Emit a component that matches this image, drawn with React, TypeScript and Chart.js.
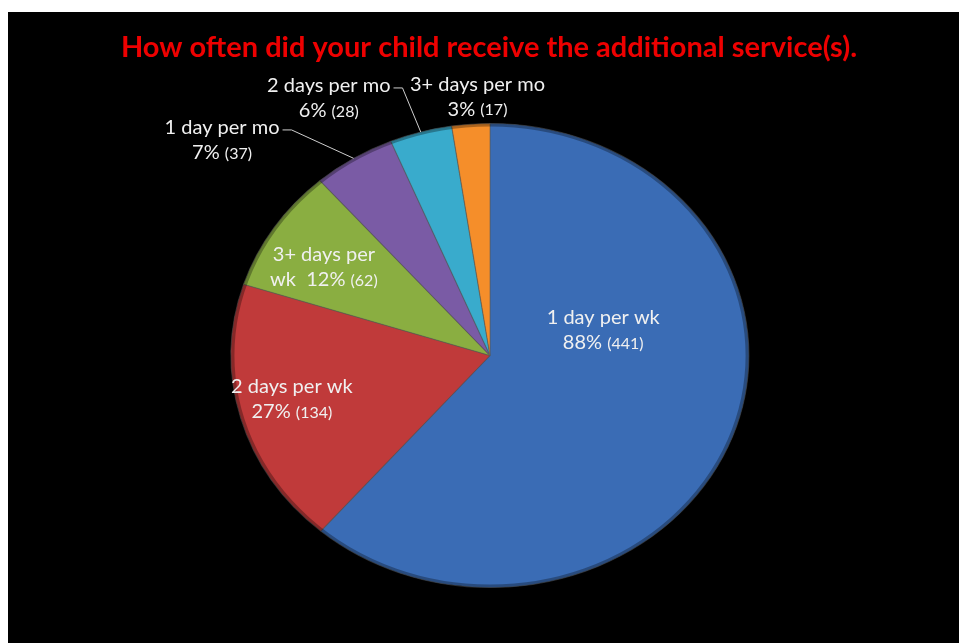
import React, { useEffect, useRef } from "react";
import { Chart, registerables } from "chart.js";

Chart.register(...registerables);

const TITLE = "How often did your child receive the additional service(s).";
const CATEGORIES = ["1 day per wk", "2 days per wk", "3+ days per wk", "1 day per mo", "2 days per mo", "3+ days per mo"];
const COUNTS = [441, 134, 62, 37, 28, 17];
const PERCENT_LABELS = ["88%", "27%", "12%", "7%", "6%", "3%"];
const COLORS = ["#3a6cb5", "#c03a3a", "#8aae41", "#7a5ba5", "#39abcc", "#f58e2a"];

// label layout (style): first-line text, wrapped prefix of the second line, offsets relative to radius, leader line
const LABEL_LAYOUT = [
  { lines: ["1 day per wk", ""], dx: 0.488, dy: -0.11, leader: false },
  { lines: ["2 days per wk", ""], dx: -0.854, dy: 0.187, leader: false },
  { lines: ["3+ days per", "wk  "], dx: -0.716, dy: -0.381, leader: false },
  { lines: ["1 day per mo", ""], dx: -1.155, dy: -0.927, leader: true },
  { lines: ["2 days per mo", ""], dx: -0.695, dy: -1.108, leader: true },
  { lines: ["3+ days per mo", ""], dx: -0.054, dy: -1.116, leader: false },
];

const SX = 1.116; // horizontal stretch of the pie into an ellipse
const FONT = "Lato";
const BIG = 20;
const SMALL = 16;
const LINE_H = 25;

const ellipsePlugin = {
  id: "ellipse",
  beforeDatasetsDraw(chart: any) {
    const arc = chart.getDatasetMeta(0).data[0];
    const ctx = chart.ctx;
    ctx.save();
    ctx.translate(arc.x, arc.y);
    ctx.scale(SX, 1);
    ctx.translate(-arc.x, -arc.y);
  },
  afterDatasetsDraw(chart: any) {
    const arc = chart.getDatasetMeta(0).data[0];
    const ctx = chart.ctx;
    ctx.beginPath();
    ctx.arc(arc.x, arc.y, arc.outerRadius - 1.5, 0, Math.PI * 2);
    ctx.strokeStyle = "rgba(0,0,0,0.3)";
    ctx.lineWidth = 3;
    ctx.stroke();
    ctx.restore();
  },
};

const labelPlugin = {
  id: "labels",
  afterDraw(chart: any) {
    const ctx = chart.ctx;
    const meta = chart.getDatasetMeta(0);
    ctx.save();
    ctx.fillStyle = "#ee0000";
    ctx.font = `bold 29px ${FONT}`;
    ctx.textAlign = "center";
    ctx.textBaseline = "middle";
    ctx.fillText(TITLE, meta.data[0].x - 1, 36);
    ctx.restore();

    meta.data.forEach((arc: any, i: number) => {
      const r = arc.outerRadius;
      const lay = LABEL_LAYOUT[i];
      const cx = arc.x + lay.dx * r;
      const cy = arc.y + lay.dy * r;
      ctx.save();
      ctx.fillStyle = "#f0f0f0";
      ctx.textBaseline = "middle";
      const y1 = cy - LINE_H / 2;
      const y2 = cy + LINE_H / 2;
      ctx.font = `${BIG}px ${FONT}`;
      ctx.textAlign = "center";
      ctx.fillText(lay.lines[0], cx, y1);
      const w1 = ctx.measureText(lay.lines[0]).width;
      const main = lay.lines[1] + PERCENT_LABELS[i] + " ";
      const wMain = ctx.measureText(main).width;
      ctx.font = `${SMALL}px ${FONT}`;
      const small = `(${COUNTS[i]})`;
      const wSmall = ctx.measureText(small).width;
      const start = cx - (wMain + wSmall) / 2;
      ctx.textAlign = "left";
      ctx.font = `${BIG}px ${FONT}`;
      ctx.fillText(main, start, y2);
      ctx.font = `${SMALL}px ${FONT}`;
      ctx.fillText(small, start + wMain, y2 + 1);
      if (lay.leader) {
        const mid = (arc.startAngle + arc.endAngle) / 2;
        const ex = arc.x + Math.cos(mid) * r * SX;
        const ey = arc.y + Math.sin(mid) * r;
        const sx0 = cx + w1 / 2 + 3;
        const ly = y1 + 2;
        ctx.strokeStyle = "#cfcfcf";
        ctx.lineWidth = 1;
        ctx.beginPath();
        ctx.moveTo(sx0, ly);
        ctx.lineTo(sx0 + 9, ly);
        ctx.lineTo(ex, ey);
        ctx.stroke();
      }
      ctx.restore();
    });
  },
};

export default function App() {
  const ref = useRef<HTMLCanvasElement | null>(null);
  useEffect(() => {
    if (!ref.current) return;
    const chart = new Chart(ref.current, {
      type: "pie",
      data: {
        labels: CATEGORIES,
        datasets: [
          {
            data: COUNTS,
            backgroundColor: COLORS,
            borderColor: "rgba(90,90,90,0.5)",
            borderWidth: 1,
            clip: false,
          } as any,
        ],
      },
      options: {
        responsive: false,
        animation: false,
        layout: { padding: { top: 111, bottom: 55, left: 182, right: 169 } },
        plugins: {
          legend: { display: false },
          title: { display: false },
          tooltip: { enabled: false },
        },
      },
      plugins: [ellipsePlugin, labelPlugin],
    });
    return () => chart.destroy();
  }, []);
  return (
    <div
      style={{
        position: "absolute",
        left: 8,
        top: 12,
        width: 951,
        height: 631,
        background: "#000",
      }}
    >
      <canvas ref={ref} width={951} height={631} style={{ display: "block" }} />
    </div>
  );
}
